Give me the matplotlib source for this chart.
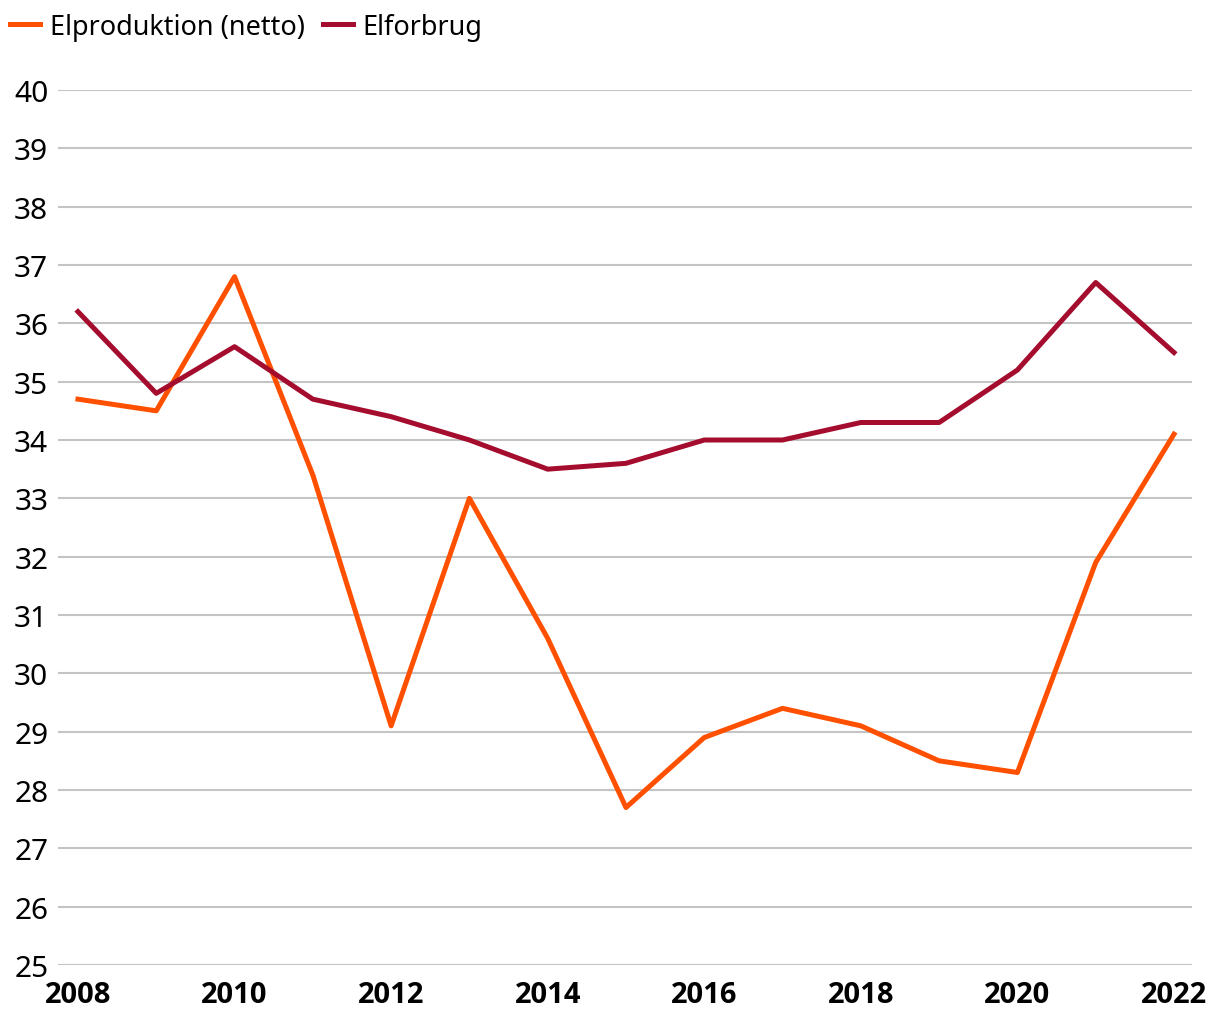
import matplotlib
matplotlib.use("Agg")
import matplotlib.pyplot as plt

plt.rcParams["font.family"] = ["Noto Sans", "DejaVu Sans"]

years = list(range(2008, 2023))
elproduktion = [34.7, 34.5, 36.8, 33.4, 29.1, 33.0, 30.6, 27.7, 28.9, 29.4, 29.1, 28.5, 28.3, 31.9, 34.1]
elforbrug = [36.2, 34.8, 35.6, 34.7, 34.4, 34.0, 33.5, 33.6, 34.0, 34.0, 34.3, 34.3, 35.2, 36.7, 35.5]
y_ticks = list(range(25, 41))
x_ticks = list(range(2008, 2023, 2))

fig = plt.figure(figsize=(12.2, 10.2), dpi=100)
ax = fig.add_axes([58 / 1220, 1 - 966 / 1020, (1192 - 58) / 1220, (966 - 91) / 1020])

ax.plot(years, elproduktion, color="#FF5000", lw=3.6, label="Elproduktion (netto)", zorder=3)
ax.plot(years, elforbrug, color="#A50D2E", lw=3.6, label="Elforbrug", zorder=3)

ax.set_xlim(2007.745, 2022.23)
ax.set_ylim(25, 40)
ax.set_yticks(y_ticks)
ax.set_xticks(x_ticks, labels=[str(x) for x in x_ticks],
              fontfamily=["Open Sans", "DejaVu Sans"], fontweight="bold", fontsize=21)
ax.grid(axis="y", color="#C4C4C4", lw=1.5)
ax.set_axisbelow(True)
for s in ax.spines.values():
    s.set_visible(False)
ax.tick_params(axis="both", length=0)
ax.tick_params(axis="y", labelsize=21.5, pad=7)
ax.tick_params(axis="x", pad=11)

fig.legend(loc="upper left", bbox_to_anchor=(-0.006, 1.004), ncol=2, frameon=False,
           fontsize=19.5, handlelength=1.1, handletextpad=0.35, columnspacing=0.7,
           borderaxespad=0.25)

fig.savefig("out.png", dpi=100)
